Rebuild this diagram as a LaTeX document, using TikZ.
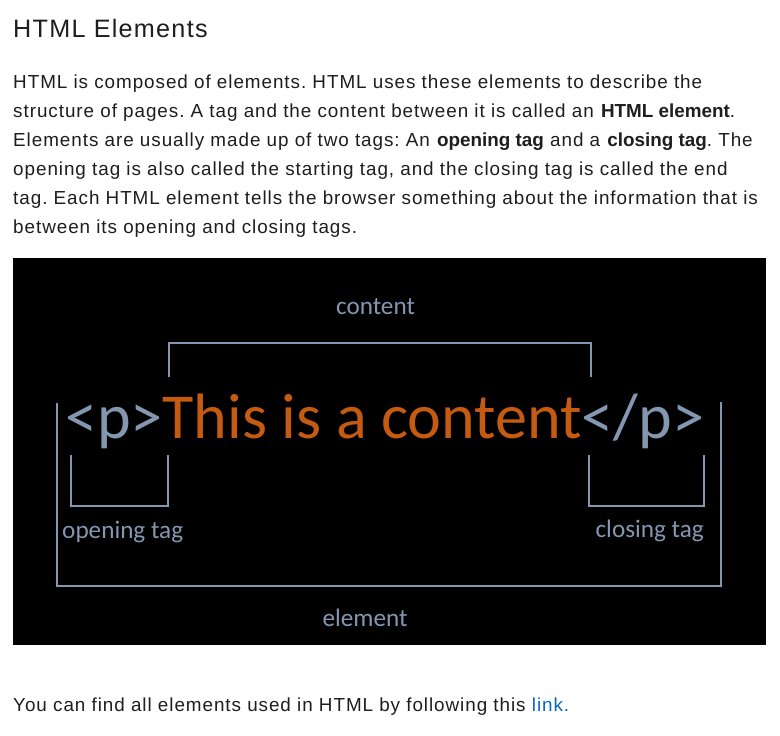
\documentclass[tikz,border=0pt]{standalone}
\usepackage{fontspec}
\setmainfont{Liberation Sans}[LetterSpace=5,BoldFeatures={LetterSpace=0}]
\newfontfamily\slidefont{Carlito}
\definecolor{bodyink}{HTML}{1E1E1E}
\definecolor{linkblue}{HTML}{0A66C2}
\definecolor{taggray}{HTML}{8497B0}
\definecolor{txtorange}{HTML}{C55A11}
\frenchspacing

\begin{document}
\begin{tikzpicture}[x=0.03cm,y=-0.03cm,
  bodyline/.style={anchor=base west,inner sep=0pt,text=bodyink,font=\fontsize{16.1}{16.1}\selectfont},
  slidelbl/.style={anchor=base,inner sep=0pt,text=taggray,font=\slidefont\fontsize{21.5}{21.5}\selectfont},
  bracket/.style={draw=taggray,line width=1.7pt}]
\useasboundingbox (0,0) rectangle (780,736);
\fill[white] (0,0) rectangle (780,736);

% heading and text
\node[bodyline,font=\fontsize{21.5}{21.5}\selectfont] (title) at (13,38) {HTML Elements};
\node[bodyline] (l1) at (13,89) {HTML is composed of elements. HTML uses these elements to describe the};
\node[bodyline] (l2) at (13,118) {structure of pages. A tag and the content between it is called an \textbf{HTML element}.};
\node[bodyline] (l3) at (13,147) {Elements are usually made up of two tags: An \textbf{opening tag} and a \textbf{closing tag}. The};
\node[bodyline] (l4) at (13,176) {opening tag is also called the starting tag, and the closing tag is called the end};
\node[bodyline] (l5) at (13,205) {tag. Each HTML element tells the browser something about the information that is};
\node[bodyline] (l6) at (13,234) {between its opening and closing tags.};

% the slide
\fill[black] (13,258) rectangle (766,645);
\node[anchor=base west,inner sep=0pt,font=\slidefont\fontsize{54.7}{54.7}\selectfont] (code) at (65,438)
  {\textcolor{taggray}{<p>}\textcolor{txtorange}{This is a content}\textcolor{taggray}{</p>}};

\node[slidelbl] (content) at (375.5,315) {content};
\node[slidelbl,anchor=base west] (opening) at (62,538) {opening tag};
\node[slidelbl,anchor=base east] (closing) at (704,537) {closing tag};
\node[slidelbl] (element) at (365,626) {element};

\draw[bracket] (169,377) -- (169,343) -- (591,343) -- (591,377);
\draw[bracket] (71,455) -- (71,506) -- (168,506) -- (168,455);
\draw[bracket] (589,455) -- (589,506) -- (704,506) -- (704,455);
\draw[bracket] (57,403) -- (57,586) -- (721,586) -- (721,402);

% closing line
\node[bodyline] (l7) at (13,711) {You can find all elements used in HTML by following this \textcolor{linkblue}{link.}};
\end{tikzpicture}
\end{document}
